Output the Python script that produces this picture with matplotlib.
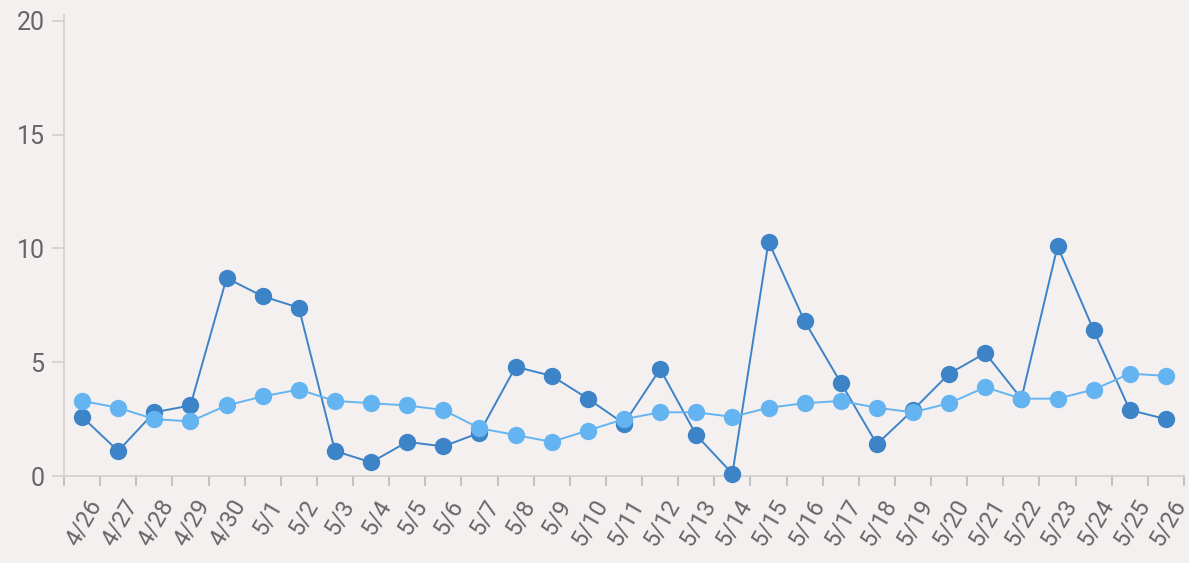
import matplotlib
matplotlib.use("Agg")
import matplotlib.pyplot as plt
from matplotlib.transforms import ScaledTranslation
import numpy as np

dates = ["4/26", "4/27", "4/28", "4/29", "4/30", "5/1", "5/2", "5/3", "5/4", "5/5",
         "5/6", "5/7", "5/8", "5/9", "5/10", "5/11", "5/12", "5/13", "5/14", "5/15",
         "5/16", "5/17", "5/18", "5/19", "5/20", "5/21", "5/22", "5/23", "5/24", "5/25", "5/26"]
series_dark = [2.6, 1.1, 2.8, 3.1, 8.7, 7.9, 7.4, 1.1, 0.6, 1.5,
               1.3, 1.9, 4.8, 4.4, 3.4, 2.3, 4.7, 1.8, 0.1, 10.3,
               6.8, 4.1, 1.4, 2.9, 4.5, 5.4, 3.4, 10.1, 6.4, 2.9, 2.5]
series_light = [3.3, 3.0, 2.5, 2.4, 3.1, 3.5, 3.8, 3.3, 3.2, 3.1,
                2.9, 2.1, 1.8, 1.5, 2.0, 2.5, 2.8, 2.8, 2.6, 3.0,
                3.2, 3.3, 3.0, 2.8, 3.2, 3.9, 3.4, 3.4, 3.8, 4.5, 4.4]
y_ticks = [0, 5, 10, 15, 20]

plt.rcParams['font.family'] = ['Roboto', 'DejaVu Sans']
bg = "#f4f0ef"
axis_col = "#d3cfce"
text_col = "#666666"

fig = plt.figure(figsize=(11.89, 5.63), dpi=100, facecolor=bg)
ax = fig.add_axes([64/1189, 1 - 476/563, (1184 - 64)/1189, (476 - 15)/563])
ax.set_facecolor(bg)

x = np.arange(len(dates))
ax.plot(x, series_dark, color="#3d83c8", lw=1.4, marker="o", ms=12.5,
        markeredgewidth=0, zorder=3, clip_on=False)
ax.plot(x, series_light, color="#64b4f2", lw=1.4, marker="o", ms=12.5,
        markeredgewidth=0, zorder=4, clip_on=False)

ax.set_xlim(-0.5, len(dates) - 0.5)
ax.set_ylim(0, 20 * 461 / 455)

for s in ["top", "right"]:
    ax.spines[s].set_visible(False)
for s in ["left", "bottom"]:
    ax.spines[s].set_color(axis_col)
    ax.spines[s].set_linewidth(1.2)

ax.set_yticks(y_ticks)
ax.set_yticklabels([str(v) for v in y_ticks])
ax.tick_params(axis="y", length=9, width=1.2, color=axis_col, labelcolor=text_col,
               labelsize=18, pad=5)

ax.set_xticks(np.arange(-0.5, len(dates), 1.0))
ax.set_xticklabels([])
ax.tick_params(axis="x", which="major", length=7, width=1.2, color="#bcb8b7")
ax.set_xticks(x, minor=True)
ax.set_xticklabels(dates, minor=True, rotation=60, ha="right", va="top",
                   rotation_mode="anchor")
ax.tick_params(axis="x", which="minor", length=0, labelcolor=text_col,
               labelsize=17, pad=14)
shift = ScaledTranslation(4 / 100, 0, fig.dpi_scale_trans)
for lab in ax.get_xticklabels(minor=True):
    lab.set_transform(lab.get_transform() + shift)

fig.savefig("out.png", dpi=100, facecolor=bg)
